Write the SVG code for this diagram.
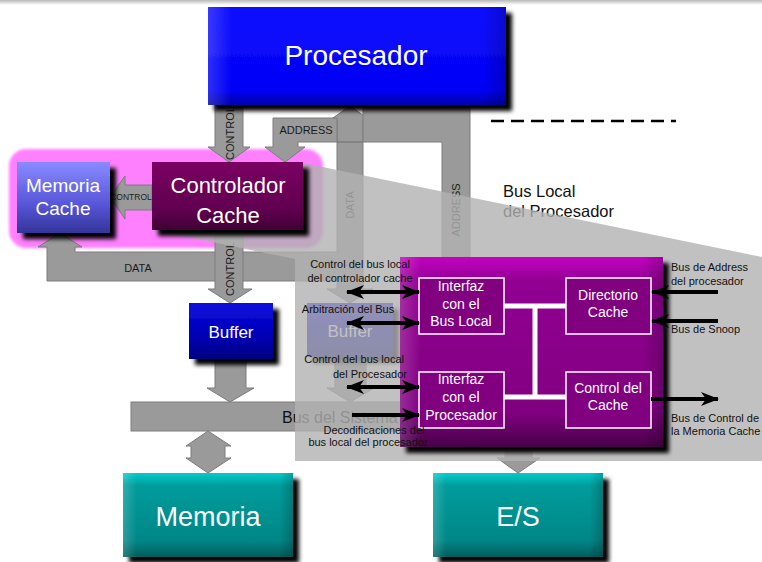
<svg xmlns="http://www.w3.org/2000/svg" width="762" height="562" viewBox="0 0 762 562">
  <style>
    .t { font-family: "Liberation Sans", Arial, sans-serif; }
    .w { fill: #ffffff; }
    .mid { text-anchor: middle; }
    .sm { font-size: 11px; fill: #111111; }
    .lbl { font-size: 11px; fill: #1a1a1a; }
    .band { fill: #9a9a9a; stroke: #7c7c7c; stroke-width: 1; }
    .inner { fill: #800080; stroke: #ffffff; stroke-width: 1.5; }
    .wire { stroke: #ffffff; stroke-width: 5; fill: none; }
    .bk { stroke: #000000; stroke-width: 4; fill: none; }
  </style>
  <defs>
    <filter id="shadow" x="-10%" y="-10%" width="130%" height="140%">
      <feGaussianBlur in="SourceAlpha" stdDeviation="2"/>
      <feOffset dx="6" dy="6"/>
      <feMerge><feMergeNode/><feMergeNode in="SourceGraphic"/></feMerge>
    </filter>
    <filter id="soft" x="-5%" y="-10%" width="110%" height="120%">
      <feGaussianBlur stdDeviation="1.5"/>
    </filter>
    <linearGradient id="gTop" x1="0" y1="0" x2="0" y2="1">
      <stop offset="0" stop-color="#b8b8b8"/>
      <stop offset="1" stop-color="#ffffff"/>
    </linearGradient>
    <linearGradient id="gProc" x1="0" y1="0" x2="0" y2="1">
      <stop offset="0" stop-color="#1010ff"/>
      <stop offset="0.85" stop-color="#0000f6"/>
      <stop offset="1" stop-color="#0000a8"/>
    </linearGradient>
    <linearGradient id="gMemC" x1="0" y1="0" x2="0" y2="1">
      <stop offset="0" stop-color="#8a8aff"/>
      <stop offset="0.6" stop-color="#5656d8"/>
      <stop offset="1" stop-color="#34349a"/>
    </linearGradient>
    <linearGradient id="gCtrl" x1="0" y1="0" x2="0" y2="1">
      <stop offset="0" stop-color="#7a0062"/>
      <stop offset="0.7" stop-color="#600050"/>
      <stop offset="1" stop-color="#400034"/>
    </linearGradient>
    <linearGradient id="gBuf" x1="0" y1="0" x2="0" y2="1">
      <stop offset="0" stop-color="#0c0ce0"/>
      <stop offset="0.6" stop-color="#0000b4"/>
      <stop offset="1" stop-color="#000080"/>
    </linearGradient>
    <linearGradient id="gTeal" x1="0" y1="0" x2="0" y2="1">
      <stop offset="0" stop-color="#00cccc"/>
      <stop offset="0.15" stop-color="#009c9c"/>
      <stop offset="0.8" stop-color="#008787"/>
      <stop offset="1" stop-color="#005c5c"/>
    </linearGradient>
    <linearGradient id="gPurp" x1="0" y1="0" x2="0" y2="1">
      <stop offset="0" stop-color="#c400c4"/>
      <stop offset="0.12" stop-color="#920092"/>
      <stop offset="0.82" stop-color="#800080"/>
      <stop offset="1" stop-color="#480048"/>
    </linearGradient>
    <linearGradient id="gEdge" x1="0" y1="0" x2="1" y2="0">
      <stop offset="0" stop-color="#ffffff" stop-opacity="0.18"/>
      <stop offset="0.08" stop-color="#ffffff" stop-opacity="0"/>
      <stop offset="0.92" stop-color="#000000" stop-opacity="0"/>
      <stop offset="1" stop-color="#000000" stop-opacity="0.2"/>
    </linearGradient>
    <marker id="ah" viewBox="0 0 18 14" refX="17" refY="7" markerWidth="18" markerHeight="14" markerUnits="userSpaceOnUse" orient="auto-start-reverse">
      <path d="M0,0 L18,7 L0,14 L5,7 z" fill="#000000"/>
    </marker>
  </defs>

  <rect x="0" y="0" width="762" height="5" fill="url(#gTop)"/>

  <!-- cache subsystem backdrop -->
  <g id="cache-group">
    <rect x="9" y="149" width="314" height="99" rx="17" fill="#ff80ff" filter="url(#soft)"/>
  </g>

  <!-- gray buses and arrows -->
  <g id="connectors">
    <!-- DATA: processor <-> cache memory / buffer -->
    <path class="band" d="M350,106 L370,120 L363,120 L363,289 L373,289 L350,303 L327,289 L337,289 L337,281 L47,281 L47,247 L38,247 L60,233 L82,247 L75,247 L75,252 L337,252 L337,120 L330,120 Z"/>
    <!-- ADDRESS -->
    <path class="band" d="M442,105 L470,105 L470,257 L442,257 L442,142 L298,142 L298,147 L305,147 L285,162 L265,147 L273,147 L273,118 L337,118 L337,142 L363,142 L363,108 L442,108 Z"/>
    <!-- CONTROL processor -> controller -->
    <path class="band" d="M215,105 L243,105 L243,147 L250,147 L229,162 L208,147 L215,147 Z"/>
    <!-- CONTROL controller -> cache memory -->
    <path class="band" d="M152,185 L125,185 L125,176 L110,197 L125,219 L125,210 L152,210 Z"/>
    <!-- CONTROL controller -> buffer -->
    <path class="band" d="M215,230 L243,230 L243,289 L252,289 L230,303 L208,289 L215,289 Z"/>
    <!-- buffer -> system bus -->
    <path class="band" d="M215,359 L246,359 L246,388 L254,388 L230,402 L207,388 L215,388 Z"/>
    <path class="band" d="M335,357 L366,357 L366,388 L374,388 L350,402 L327,388 L335,388 Z"/>
    <!-- system bus -->
    <rect class="band" x="131" y="402" width="440" height="29"/>
    <!-- bus <-> memory -->
    <path class="band" d="M208,431 L231,446 L225,446 L225,458 L231,458 L208,473 L186,458 L191,458 L191,446 L186,446 Z"/>
    <!-- bus -> E/S -->
    <path class="band" d="M505,431 L532,431 L532,458 L540,458 L518,473 L497,458 L505,458 Z"/>
    <text class="t lbl mid" x="306" y="134">ADDRESS</text>
    <text class="t lbl mid" x="138" y="272">DATA</text>
    <text class="t mid" x="131" y="200" font-size="8.5" fill="#222">CONTROL</text>
    <text class="t lbl mid" transform="translate(234,133) rotate(-90)">CONTROL</text>
    <text class="t lbl mid" transform="translate(234,269) rotate(-90)">CONTROL</text>
    <text class="t lbl mid" transform="translate(354,205) rotate(-90)">DATA</text>
    <text class="t lbl mid" transform="translate(460,210) rotate(-90)">ADDRESS</text>
  </g>

  <g id="procesador">
    <rect x="208" y="7" width="298" height="98" fill="url(#gProc)" filter="url(#shadow)"/>
    <rect x="208" y="7" width="298" height="98" fill="url(#gEdge)"/>
    <text class="t w mid" x="356" y="65" font-size="28">Procesador</text>
  </g>

  <g id="memoria-cache">
    <rect x="17" y="162" width="93" height="71" fill="url(#gMemC)" filter="url(#shadow)"/>
    <text class="t w mid" x="63" y="192" font-size="19">Memoria</text>
    <text class="t w mid" x="63" y="215" font-size="19">Cache</text>
  </g>

  <g id="buffer">
    <rect x="189" y="303" width="84" height="56" fill="url(#gBuf)" filter="url(#shadow)"/>
    <text class="t w mid" x="231" y="338" font-size="17">Buffer</text>
  </g>

  <g id="buffer-datos">
    <rect x="307" y="303" width="86" height="54" fill="url(#gBuf)" filter="url(#shadow)"/>
    <text class="t w mid" x="350" y="337" font-size="17">Buffer</text>
  </g>

  <g id="memoria">
    <rect x="123" y="473" width="170" height="84" fill="url(#gTeal)" filter="url(#shadow)"/>
    <rect x="123" y="473" width="170" height="84" fill="url(#gEdge)"/>
    <text class="t w mid" x="208" y="526" font-size="27">Memoria</text>
  </g>

  <g id="es">
    <rect x="433" y="473" width="170" height="84" fill="url(#gTeal)" filter="url(#shadow)"/>
    <rect x="433" y="473" width="170" height="84" fill="url(#gEdge)"/>
    <text class="t w mid" x="518" y="526" font-size="27">E/S</text>
  </g>

  <text class="t" x="282" y="423" font-size="16" fill="#111">Bus del Sistema</text>
  <text class="t" x="503" y="197" font-size="16.5" fill="#111">Bus Local</text>
  <text class="t" x="503" y="217" font-size="16.5" fill="#111">del Procesador</text>

  <!-- magnified view of the cache controller -->
  <polygon id="zoom-callout" points="153,230 303,163 762,257 762,461 295,461 295,259" fill="#b1b1b1" fill-opacity="0.8"/>

  <g id="controlador-cache">
    <rect x="152" y="162" width="151" height="68" fill="url(#gCtrl)" filter="url(#shadow)"/>
    <text class="t w mid" x="228" y="193" font-size="22">Controlador</text>
    <text class="t w mid" x="228" y="223" font-size="22">Cache</text>
  </g>

  <g id="controlador-detalle">
    <rect x="400" y="257" width="263" height="190" fill="url(#gPurp)" filter="url(#shadow)"/>
    <rect x="400" y="257" width="263" height="190" fill="url(#gEdge)"/>
    <path class="wire" d="M504,306 L566,306 M535,306 L535,397 M504,397 L566,397"/>
    <g id="interfaz-bus-local">
      <rect class="inner" x="419" y="278" width="85" height="56"/>
      <text class="t w mid" x="461" y="291" font-size="14">Interfaz</text>
      <text class="t w mid" x="461" y="309" font-size="14">con el</text>
      <text class="t w mid" x="461" y="326" font-size="14">Bus Local</text>
    </g>
    <g id="directorio-cache">
      <rect class="inner" x="566" y="278" width="85" height="56"/>
      <text class="t w mid" x="608" y="300" font-size="14">Directorio</text>
      <text class="t w mid" x="608" y="317" font-size="14">Cache</text>
    </g>
    <g id="interfaz-procesador">
      <rect class="inner" x="419" y="372" width="85" height="56"/>
      <text class="t w mid" x="461" y="384" font-size="14">Interfaz</text>
      <text class="t w mid" x="461" y="402" font-size="14">con el</text>
      <text class="t w mid" x="461" y="420" font-size="14">Procesador</text>
    </g>
    <g id="control-cache">
      <rect class="inner" x="566" y="372" width="85" height="56"/>
      <text class="t w mid" x="608" y="393" font-size="14">Control del</text>
      <text class="t w mid" x="608" y="410" font-size="14">Cache</text>
    </g>
  </g>

  <!-- signal lines of the controller -->
  <g id="senales">
    <line class="bk" x1="347" y1="292" x2="419" y2="292" marker-start="url(#ah)" marker-end="url(#ah)"/>
    <line class="bk" x1="347" y1="323" x2="419" y2="323" marker-start="url(#ah)" marker-end="url(#ah)"/>
    <line class="bk" x1="347" y1="387" x2="419" y2="387" marker-start="url(#ah)" marker-end="url(#ah)"/>
    <line class="bk" x1="352" y1="415" x2="419" y2="415" marker-end="url(#ah)"/>
    <line class="bk" x1="718" y1="292" x2="652" y2="292" marker-end="url(#ah)"/>
    <line class="bk" x1="718" y1="321" x2="652" y2="321" marker-end="url(#ah)"/>
    <line class="bk" x1="651" y1="399" x2="718" y2="399" marker-end="url(#ah)"/>

    <text class="t sm mid" x="360" y="268">Control del bus local</text>
    <text class="t sm mid" x="360" y="282">del controlador cache</text>
    <text class="t sm mid" x="348" y="313">Arbitración del Bus</text>
    <text class="t sm" x="404" y="363" text-anchor="end">Control del bus local</text>
    <text class="t sm" x="407" y="378" text-anchor="end">del Procesador</text>
    <text class="t sm mid" x="374" y="434">Decodificaciones del</text>
    <text class="t sm mid" x="368" y="446">bus local del procesador</text>
    <text class="t sm" x="671" y="271">Bus de Address</text>
    <text class="t sm" x="671" y="285">del procesador</text>
    <text class="t sm" x="671" y="333">Bus de Snoop</text>
    <text class="t sm" x="671" y="422">Bus de Control de</text>
    <text class="t sm" x="671" y="435">la Memoria Cache</text>
  </g>

  <line x1="491" y1="121" x2="676" y2="121" stroke="#000" stroke-width="2.5" stroke-dasharray="13 7"/>
</svg>
